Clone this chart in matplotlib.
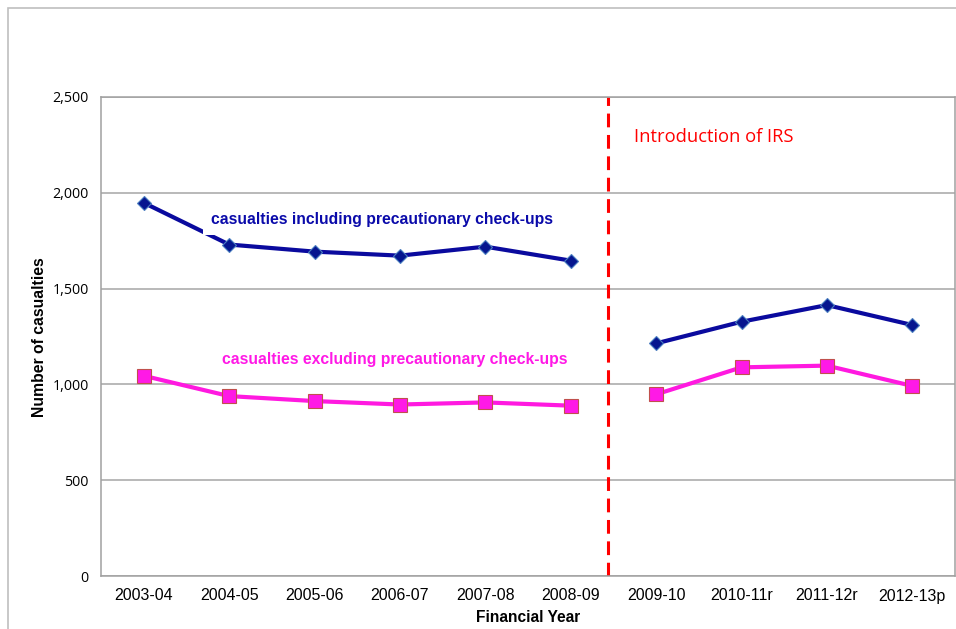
import matplotlib
matplotlib.use("Agg")
import matplotlib.pyplot as plt
from matplotlib.patches import Rectangle

years = ["2003-04", "2004-05", "2005-06", "2006-07", "2007-08", "2008-09",
         "2009-10", "2010-11r", "2011-12r", "2012-13p"]
incl_checkups = [1948, 1730, 1693, 1672, 1719, 1646, 1214, 1327, 1414, 1310]
excl_checkups = [1045, 939, 913, 895, 906, 889, 948, 1089, 1098, 992]
y_ticks = [0, 500, 1000, 1500, 2000, 2500]
irs_break = 5.44

fig = plt.figure(figsize=(9.56, 6.29), dpi=100)
fig.patch.set_facecolor("white")
# outer chart border (only top/left visible in reference)
fig.patches.append(Rectangle((8/956, -0.1), 1.2, (629-8)/629 + 0.1,
                             transform=fig.transFigure, fill=False,
                             edgecolor="#BFBFBF", linewidth=1.2))

ax = fig.add_axes([101/956, (629-576)/629, (955-101)/956, (576-97)/629])
x = list(range(len(years)))
n1 = 6

ax.set_xlim(-0.5, len(years) - 0.5)
ax.set_ylim(0, 2500)
ax.set_yticks(y_ticks)
ax.set_yticklabels([f"{v:,}" for v in y_ticks], fontfamily="Open Sans", fontsize=10.3)
ax.set_xticks(x)
ax.set_xticklabels(years, fontfamily="Liberation Sans", fontsize=11.5)
ax.tick_params(axis="x", length=0, pad=9)
ax.tick_params(axis="y", length=0, pad=9)
ax.yaxis.grid(True, color="#A6A6A6", linewidth=1.1)
ax.set_axisbelow(True)
for s in ax.spines.values():
    s.set_color("#A0A0A0")
    s.set_linewidth(1.1)

blue = "#0A0A9E"
pink = "#FF19E0"
for seg in (slice(0, n1), slice(n1, None)):
    ax.plot(x[seg], incl_checkups[seg], color=blue, linewidth=3,
            marker="D", markersize=7.5, markerfacecolor="#06168F",
            markeredgecolor="#4A7FC0", markeredgewidth=0.8, zorder=3)
    ax.plot(x[seg], excl_checkups[seg], color=pink, linewidth=3,
            marker="s", markersize=10, markerfacecolor="#FF19E6",
            markeredgecolor="#C0504D", markeredgewidth=0.8, zorder=3)

ax.axvline(irs_break, color="#FF0000", linewidth=2.2, linestyle=(0, (4.5, 2.5)), zorder=2)

ax.text(0.79, 1860, "casualties including precautionary check-ups",
        color="#0A0AAA", fontsize=11.3, fontweight="bold",
        fontfamily="Liberation Sans", va="center", ha="left", zorder=4,
        bbox=dict(boxstyle="square,pad=0.5", facecolor="white", edgecolor="none"))
ax.text(0.92, 1130, "casualties excluding precautionary check-ups",
        color="#FF19E6", fontsize=11.3, fontweight="bold",
        fontfamily="Liberation Sans", va="center", ha="left", zorder=4)
ax.text(5.74, 2290, "Introduction of IRS", color="#FF0000", fontsize=13.2,
        fontfamily="Open Sans", va="center", ha="left")

fig.text(528/956, 1 - 617/629, "Financial Year", fontsize=11.2, fontweight="bold",
         fontfamily="Liberation Sans", ha="center", va="center")
fig.text(40/956, 1 - 337/629, "Number of casualties", fontsize=11.3, fontweight="bold",
         fontfamily="Liberation Sans", ha="center", va="center", rotation=90)

fig.savefig("out.png", dpi=100)
